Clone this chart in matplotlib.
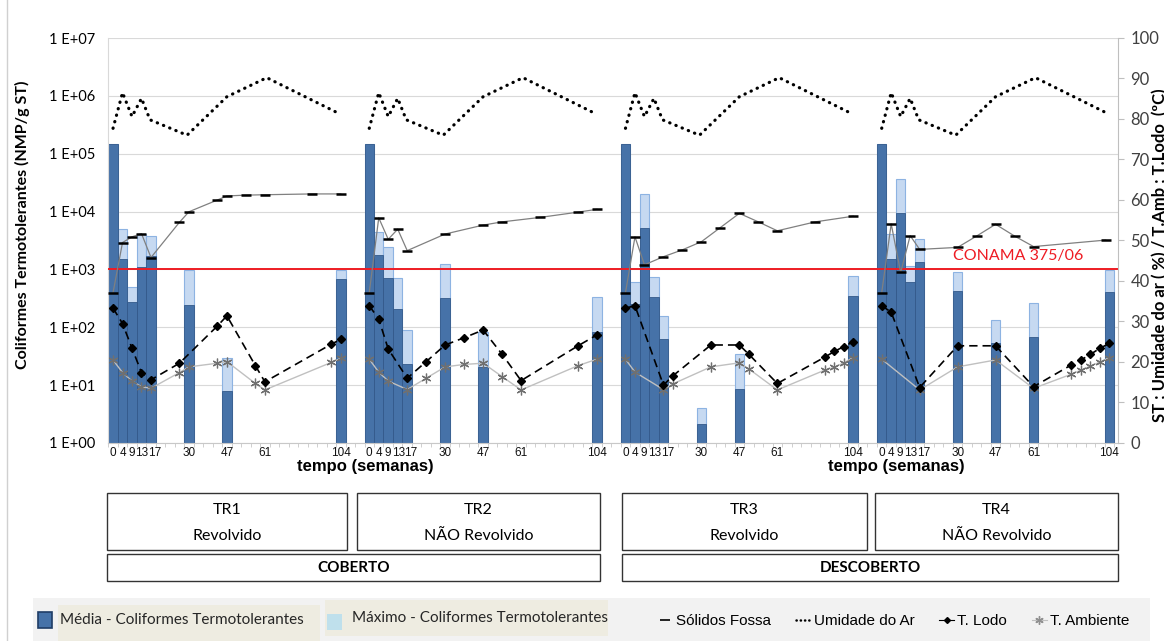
import numpy as np
import matplotlib
matplotlib.use("Agg")
import matplotlib.pyplot as plt
from matplotlib.patches import Rectangle
from matplotlib.lines import Line2D

W, H = 1164, 641

# sampling weeks and the category slot each one takes on the Excel axis
weeks = ["0", "4", "9", "13", "17", "30", "47", "61", "104"]
slots = [0, 1, 2, 3, 4, 8, 12, 16, 24]
panel_step = 27

# coliformes (NMP/g ST), one list per treatment
media = [
    [1.5e5, 1.5e3, 2.7e2, 1.1e3, 1.7e3, 2.4e2, 7.9, np.nan, 6.8e2],
    [1.5e5, 1.8e3, 7.0e2, 2.1e2, 23, 3.2e2, 21, np.nan, 84],
    [1.5e5, 2.5e2, 5.3e3, 3.4e2, 62, 2.1, 8.6, np.nan, 3.5e2],
    [1.5e5, 1.5e3, 9.3e3, 6.1e2, 1.35e3, 4.2e2, 54, 69, 4.1e2],
]
maximo = [
    [1.5e5, 4.9e3, 4.9e2, 4.1e3, 3.8e3, 9.8e2, 29, np.nan, 9.8e2],
    [1.5e5, 4.4e3, 2.4e3, 7.0e2, 90, 1.24e3, 82, np.nan, 3.4e2],
    [1.5e5, 6.1e2, 2.0e4, 7.5e2, 1.56e2, 4.0, 34, np.nan, 7.7e2],
    [1.5e5, 4.1e3, 3.6e4, 1.15e3, 3.4e3, 9.1e2, 1.34e2, 2.6e2, 9.8e2],
]

# umidade do ar (%), same for all treatments
hum_x = [0, 1, 2, 3, 3.9, 7.8, 12, 16.2, 23.6]
hum = [77.7, 86.5, 80.6, 85.1, 79.8, 76.0, 85.5, 90.2, 81.6]

# solidos fossa (ST %)
st_x = [
    [0, 1, 2, 3, 4, 7, 8, 11, 12, 14, 16, 21, 24],
    [0, 1, 2, 3, 4, 8, 12, 14, 18, 22, 24],
    [0, 1, 2, 4, 6, 8, 10, 12, 14, 16, 20, 24],
    [0, 1, 2, 3, 4, 8, 10, 12, 14, 16, 23.6],
]
st = [
    [37.1, 49.5, 50.9, 51.7, 45.8, 54.5, 57.1, 60.0, 61.0, 61.2, 61.3, 61.5, 61.5],
    [37.1, 55.6, 50.3, 52.8, 47.5, 51.6, 53.8, 54.6, 55.7, 57.0, 57.7],
    [37.1, 50.9, 44.0, 46.0, 47.7, 49.7, 53.2, 56.7, 54.6, 52.4, 54.6, 56.0],
    [37.1, 54.1, 42.1, 51.2, 47.8, 48.3, 51.1, 54.0, 51.1, 48.5, 50.1],
]

# temperatura do lodo (C)
lodo_x = [
    [0, 1, 2, 3, 4, 7, 11, 12, 15, 16, 23, 24],
    [0, 1, 2, 4, 6, 8, 10, 12, 14, 16, 22, 24],
    [0, 1, 4, 5, 9, 12, 13, 16, 21, 22, 23, 24],
    [0, 1, 4, 8, 12, 16, 20, 21, 22, 23, 24],
]
lodo = [
    [33.3, 29.5, 23.4, 17.4, 15.6, 19.7, 28.9, 31.4, 19.1, 15.1, 24.4, 25.6],
    [33.9, 30.6, 23.2, 16.0, 20.1, 24.2, 26.0, 27.9, 21.9, 15.4, 24.0, 26.7],
    [33.3, 33.9, 14.3, 16.6, 24.2, 24.2, 21.9, 14.7, 21.2, 22.6, 23.8, 25.0],
    [33.9, 32.3, 13.7, 24.0, 24.0, 13.9, 19.3, 20.5, 21.9, 23.4, 24.6],
]

# temperatura ambiente (C)
amb_x = [
    [0, 1, 2, 3, 4, 7, 8, 11, 12, 15, 16, 23, 24],
    [0, 1, 2, 4, 6, 8, 10, 12, 14, 16, 22, 24],
    [0, 1, 4, 5, 9, 12, 13, 16, 21, 22, 23, 24],
    [0, 4, 8, 12, 16, 20, 21, 22, 23, 24],
]
amb = [
    [20.5, 17.4, 15.3, 13.9, 13.5, 17.4, 18.8, 19.7, 20.1, 14.7, 13.1, 19.9, 20.9],
    [20.7, 17.5, 15.3, 13.2, 16.0, 18.8, 19.4, 19.7, 16.4, 13.1, 19.1, 20.7],
    [20.7, 17.5, 13.2, 14.6, 18.8, 19.8, 18.3, 13.1, 18.0, 18.7, 19.8, 21.1],
    [20.7, 13.1, 18.8, 20.5, 13.5, 17.0, 18.0, 19.0, 20.0, 21.1],
]

conama = 1e3
treatments = [("TR1", "Revolvido"), ("TR2", "NÃO Revolvido"),
              ("TR3", "Revolvido"), ("TR4", "NÃO Revolvido")]
groups = ["COBERTO", "DESCOBERTO"]

CAL = ["Lato", "DejaVu Sans"]
ARIAL = ["Liberation Sans", "DejaVu Sans"]

DARK = "#4672a8"
LIGHT = "#c6d9f1"

fig = plt.figure(figsize=(W / 100, H / 100), dpi=100)
ax = fig.add_axes([108 / W, 1 - 443 / H, 1010 / W, 405 / H])
ax.set_yscale("log")
ax.set_ylim(1, 1e7)
ax.set_xlim(-0.53, 105.9)

for p in range(4):
    xs = p * panel_step + np.array(slots)
    mx = np.array(maximo[p])
    md = np.array(media[p])
    ok = ~np.isnan(mx)
    ax.bar(xs[ok], mx[ok], width=1.0, color=LIGHT, edgecolor="#8db3e2", lw=0.8, zorder=2)
    ok = ~np.isnan(md)
    ax.bar(xs[ok], md[ok], width=1.0, color=DARK, edgecolor="#33598a", lw=0.6, zorder=2)

ax.axhline(conama, color="#ee1c24", lw=1.4, zorder=3)
ax.text(95.4, 1.7e3, "CONAMA 375/06", color="#ee1c24", fontsize=11.5,
        family=CAL, ha="center", va="center", zorder=4)

ax.set_yticks([10 ** k for k in range(8)])
ax.set_yticklabels([f"1 E+{k:02d}" for k in range(8)], family=CAL, fontsize=10.5, color="black")
ax.yaxis.set_minor_locator(matplotlib.ticker.NullLocator())
ax.tick_params(axis="y", length=0, pad=9)
ax.grid(axis="y", which="major", color="#d9d9d9", lw=0.8)
ax.set_axisbelow(True)

# week labels under each bar slot; the 13/17 pair sits tight like "1317"
ticks = [p * panel_step + s for p in range(4) for s in slots]
ax.set_xticks(ticks)
ax.set_xticklabels([])
ax.set_xticks(np.arange(-0.5, 106, 1), minor=True)
ax.tick_params(axis="x", which="major", length=0)
ax.tick_params(axis="x", which="minor", length=3, color="#c8c8c8")
nudge = {"9": -0.05, "13": 0.05, "17": 0.4}
for x, lab in zip(ticks, weeks * 4):
    ax.text(x + nudge.get(lab, 0), -0.01, lab, transform=ax.get_xaxis_transform(),
            ha="center", va="top", fontsize=8.5, family=ARIAL, color="#111111")

for s in ["top", "right"]:
    ax.spines[s].set_visible(False)
ax.spines["left"].set_color("#d9d9d9")
ax.spines["bottom"].set_color("#c8c8c8")

ax.set_ylabel("Coliformes Termotolerantes (NMP/g ST)", family=CAL, fontsize=11.5,
              fontweight="bold")
ax.yaxis.set_label_coords(-0.077, 0.54)

ax2 = ax.twinx()
ax2.set_ylim(0, 100)
ax2.set_yticks(range(0, 101, 10))
ax2.tick_params(axis="y", direction="out", length=4, color="#bfbfbf",
                labelsize=12, labelcolor="#404040", pad=5)
for lab in ax2.get_yticklabels():
    lab.set_family(CAL)
for s in ["top", "left", "bottom"]:
    ax2.spines[s].set_visible(False)
ax2.spines["right"].set_color("#bfbfbf")

for p in range(4):
    off = p * panel_step
    ax2.plot(off + np.array(hum_x), hum, color="black", lw=2.3,
             ls=(0, (0.1, 2.0)), dash_capstyle="round", zorder=3)
    ax2.plot(off + np.array(st_x[p]), st[p], color="#808080", lw=0.9,
             marker="_", ms=7, mew=1.8, mec="black", zorder=3)
    ax2.plot(off + np.array(amb_x[p]), amb[p], color="#c0c0c0", lw=1.0,
             marker=(6, 2, 0), ms=7, mew=0.9, mec="#707070", zorder=3)
    ax2.plot(off + np.array(lodo_x[p]), lodo[p], color="black", lw=1.2,
             ls=(0, (5, 3)), marker="D", ms=3.6, mfc="black", mec="black", zorder=4)

# right-hand axis title runs off the edge of the picture, as in the original
fig.text(1152 / W, 1 - 255 / H, "ST ; Umidade do ar ( %) / T.Amb ; T.Lodo  (ºC)",
         rotation=90, ha="left", va="center", fontsize=12, fontweight="bold", family=CAL)

for cx in [365, 896]:
    fig.text(cx / W, 1 - 467 / H, "tempo (semanas)", ha="center", va="center",
             fontsize=12, fontweight="bold", family=ARIAL)


def box(x0, x1, y0, y1):
    fig.patches.append(Rectangle((x0 / W, 1 - y1 / H), (x1 - x0) / W, (y1 - y0) / H,
                                 transform=fig.transFigure, fill=False,
                                 edgecolor="#333333", lw=1.0))


tr_boxes = [(107, 347), (357, 600), (622, 867), (875, 1118)]
for (x0, x1), (name, sub) in zip(tr_boxes, treatments):
    box(x0, x1, 493, 550)
    cx = (x0 + x1) / 2 / W
    fig.text(cx, 1 - 510 / H, name, ha="center", va="center", fontsize=11.5, family=CAL)
    fig.text(cx, 1 - 536 / H, sub, ha="center", va="center", fontsize=11.5, family=CAL)

for (x0, x1), g in zip([(107, 600), (622, 1118)], groups):
    box(x0, x1, 554, 581)
    fig.text((x0 + x1) / 2 / W, 1 - 568 / H, g, ha="center", va="center",
             fontsize=11, fontweight="bold", family=CAL)

# legend strip
fig.patches.append(Rectangle((33 / W, 0), (1150 - 33) / W, 1 - 598 / H,
                             transform=fig.transFigure, color="#f2f2f2", lw=0))
fig.patches.append(Rectangle((58 / W, 0), (320 - 58) / W, 1 - 605 / H,
                             transform=fig.transFigure, color="#eeece1", lw=0))
fig.patches.append(Rectangle((325 / W, 1 - 636 / H), (608 - 325) / W, 36 / H,
                             transform=fig.transFigure, color="#eeece1", lw=0))
fig.patches.append(Rectangle((38 / W, 1 - 628 / H), 14 / W, 16 / H,
                             transform=fig.transFigure, facecolor=DARK,
                             edgecolor="#1f3d66", lw=1.2))
fig.patches.append(Rectangle((327 / W, 1 - 630 / H), 15 / W, 16 / H,
                             transform=fig.transFigure, facecolor="#bfe0ec", lw=0))
fig.text(60 / W, 1 - 620 / H, "Média - Coliformes Termotolerantes", ha="left",
         va="center", fontsize=11, family=CAL, color="#262626")
fig.text(352 / W, 1 - 618 / H, "Máximo - Coliformes Termotolerantes", ha="left",
         va="center", fontsize=11, family=CAL, color="#262626")

handles = [
    Line2D([], [], color="black", lw=0, marker="_", ms=7, mew=1.2),
    Line2D([], [], color="black", lw=1.8, ls=(0, (0.1, 1.6)), dash_capstyle="round"),
    Line2D([], [], color="black", lw=0.8, marker="D", ms=3),
    Line2D([], [], color="#c0c0c0", lw=0.8, marker=(6, 2, 0), ms=6, mec="#909090"),
]
labels = ["Sólidos Fossa", "Umidade do Ar", "T. Lodo", "T. Ambiente"]
fig.legend(handles, labels, loc="center left", bbox_to_anchor=(644 / W, 1 - 621 / H),
           ncol=4, frameon=False, handlelength=1.0, handletextpad=0.2,
           columnspacing=1.6, prop={"family": ARIAL, "size": 11})

fig.add_artist(Line2D([7 / W, 7 / W], [0, 1], color="#d0d0d0", lw=1,
                      transform=fig.transFigure))

fig.savefig("out.png", dpi=100)
